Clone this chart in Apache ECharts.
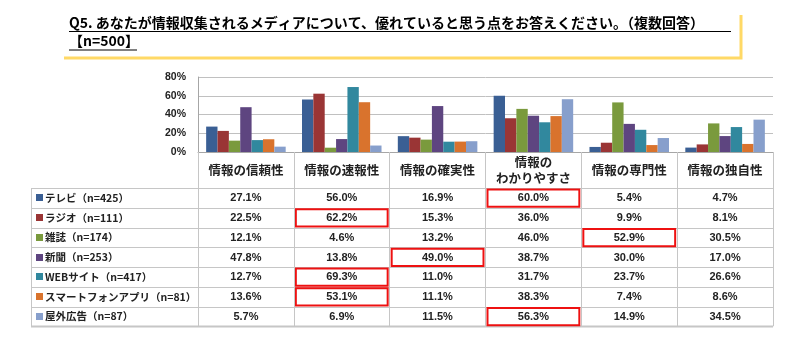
<!DOCTYPE html>
<html>
<head>
<meta charset="utf-8">
<script src="https://cdn.jsdelivr.net/npm/echarts@6/dist/echarts.min.js"></script>
<style>
html,body{margin:0;padding:0;background:#fff;}
#c{width:802px;height:356px;}
</style>
</head>
<body>
<div id="c"></div>
<script>
// ---- data ----
var titleText = 'Q5. あなたが情報収集されるメディアについて、優れていると思う点をお答えください。（複数回答）';
var sampleText = '【n=500】';
var categories = ['情報の信頼性', '情報の速報性', '情報の確実性', '情報の\nわかりやすさ', '情報の専門性', '情報の独自性'];
var mediaNames = ['テレビ（n=425）', 'ラジオ（n=111）', '雑誌（n=174）', '新聞（n=253）', 'WEBサイト（n=417）', 'スマートフォンアプリ（n=81）', '屋外広告（n=87）'];
var tvValues       = [27.1, 56.0, 16.9, 60.0, 5.4, 4.7];
var radioValues    = [22.5, 62.2, 15.3, 36.0, 9.9, 8.1];
var magazineValues = [12.1, 4.6, 13.2, 46.0, 52.9, 30.5];
var newspaperValues = [47.8, 13.8, 49.0, 38.7, 30.0, 17.0];
var webValues      = [12.7, 69.3, 11.0, 31.7, 23.7, 26.6];
var appValues      = [13.6, 53.1, 11.1, 38.3, 7.4, 8.6];
var outdoorValues  = [5.7, 6.9, 11.5, 56.3, 14.9, 34.5];
var yTicks = [0, 20, 40, 60, 80];
// highlighted cells [row, column]
var highlights = [[1, 1], [4, 1], [5, 1], [3, 2], [0, 3], [6, 3], [2, 4]];

var seriesValues = [tvValues, radioValues, magazineValues, newspaperValues, webValues, appValues, outdoorValues];
var colors = ['#3a5f94', '#9a3535', '#7a9a3d', '#5e4580', '#31889e', '#d9732d', '#879fcc'];

// ---- layout ----
var gridLeft = 198, gridRight = 773, gridTop = 77, gridBottom = 152;
var tableLeft = 31, headerBottom = 188, rowH = 19.75;
var colW = (gridRight - gridLeft) / categories.length;
var tableBottom = headerBottom + rowH * mediaNames.length;
var lineColor = '#c6c6c6';

var chart = echarts.init(document.getElementById('c'));

var graphics = [];
// title
graphics.push({type: 'text', left: 69, top: 16, style: {text: titleText, font: 'bold 14px "Noto Sans CJK JP"', fill: '#000'}});
graphics.push({type: 'line', shape: {x1: 69, y1: 31.5, x2: 731, y2: 31.5}, style: {stroke: '#000', lineWidth: 1}});
graphics.push({type: 'text', left: 69, top: 34, style: {text: sampleText, font: 'bold 14px "Noto Sans CJK JP"', fill: '#000'}});
graphics.push({type: 'line', shape: {x1: 69, y1: 50, x2: 137, y2: 50}, style: {stroke: '#808080', lineWidth: 2}});
graphics.push({type: 'polyline', shape: {points: [[64, 58], [741, 58], [741, 15]]}, style: {stroke: '#ffd966', lineWidth: 3, fill: null}});

// table horizontal lines
for (var r = 0; r <= mediaNames.length; r++) {
  var y = Math.round(headerBottom + r * rowH) + 0.5;
  graphics.push({type: 'line', shape: {x1: tableLeft, y1: y, x2: gridRight, y2: y}, style: {stroke: lineColor, lineWidth: r === mediaNames.length ? 2 : 1}});
}
graphics.push({type: 'line', shape: {x1: tableLeft + 0.5, y1: headerBottom, x2: tableLeft + 0.5, y2: tableBottom}, style: {stroke: lineColor, lineWidth: 1}});

// row labels + cells
for (var r = 0; r < mediaNames.length; r++) {
  var cy = headerBottom + r * rowH + rowH / 2;
  graphics.push({type: 'rect', shape: {x: 36, y: Math.round(cy - 3.5), width: 7, height: 7}, style: {fill: colors[r]}});
  graphics.push({type: 'text', x: 45, y: cy, style: {text: mediaNames[r], font: 'bold 10.5px "Noto Sans CJK JP"', fill: '#222', verticalAlign: 'middle', textAlign: 'left'}});
  for (var c = 0; c < categories.length; c++) {
    graphics.push({type: 'text', x: gridLeft + colW * c + colW / 2, y: cy + 0.5, style: {text: seriesValues[r][c].toFixed(1) + '%', font: 'bold 11px "Liberation Sans"', fill: '#222', textAlign: 'center', verticalAlign: 'middle'}});
  }
}
// red highlight boxes
highlights.forEach(function (h) {
  var r = h[0], c = h[1];
  var x0 = gridLeft + colW * c;
  var y0 = headerBottom + r * rowH;
  graphics.push({type: 'rect', shape: {x: x0 + 2, y: y0 + 1.5, width: colW - 4, height: rowH - 2.5}, style: {fill: null, stroke: '#ee1111', lineWidth: 2}});
});

var series = mediaNames.map(function (name, i) {
  return {
    name: name, type: 'bar', data: seriesValues[i],
    barGap: '0%', barCategoryGap: '17%',
    itemStyle: {color: colors[i]},
    silent: true, animation: false
  };
});

chart.setOption({
  animation: false,
  grid: {left: gridLeft, right: 802 - gridRight, top: gridTop, bottom: 356 - gridBottom},
  xAxis: {
    type: 'category', data: categories,
    axisLine: {lineStyle: {color: '#a6a6a6'}},
    axisTick: {show: true, length: tableBottom - gridBottom, alignWithLabel: false, lineStyle: {color: lineColor}},
    axisLabel: {interval: 0, margin: 18, verticalAlign: 'middle', lineHeight: 16, fontSize: 12.5, fontWeight: 'bold', fontFamily: 'Noto Sans CJK JP', color: '#222'}
  },
  yAxis: {
    type: 'value', min: 0, max: 80, interval: 20,
    axisLine: {show: true, lineStyle: {color: '#a6a6a6'}},
    axisTick: {show: false},
    splitLine: {lineStyle: {color: '#c0c0c0'}},
    axisLabel: {formatter: function (v) { return yTicks.indexOf(v) >= 0 ? v + '%' : ''; }, margin: 12, fontSize: 10.5, fontWeight: 'bold', fontFamily: 'Liberation Sans', color: '#222'}
  },
  series: series,
  graphic: graphics
});
</script>
</body>
</html>
